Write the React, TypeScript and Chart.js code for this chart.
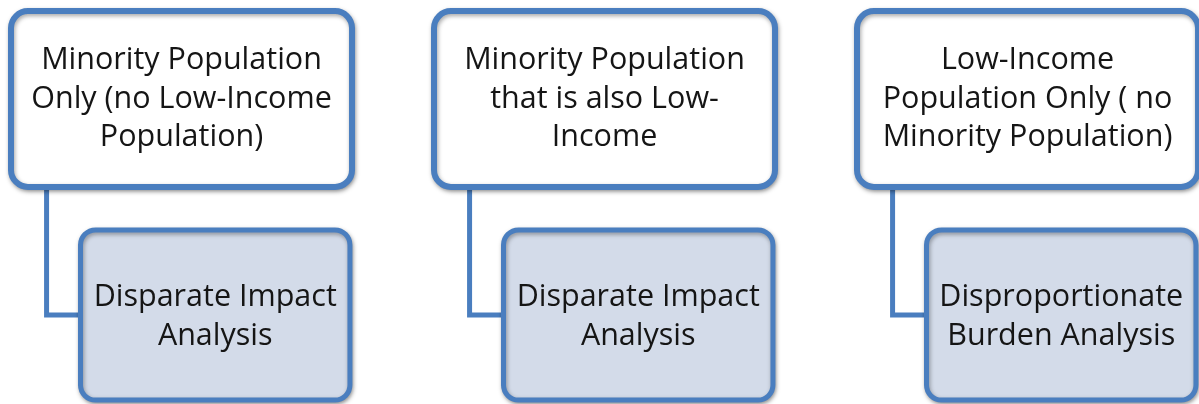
import React, { useEffect, useRef } from "react";
import { Chart, registerables } from "chart.js";

Chart.register(...registerables);

// ---- data ----
const columns = [0, 1, 2];
const topLabels = [
  ["Minority Population", "Only (no Low-Income", "Population)"],
  ["Minority Population", "that is also Low-", "Income"],
  ["Low-Income", "Population Only ( no", "Minority Population)"],
];
const bottomLabels = [
  ["Disparate Impact", "Analysis"],
  ["Disparate Impact", "Analysis"],
  ["Disproportionate", "Burden Analysis"],
];
const topLevel = 0;
const bottomLevel = 1;

// ---- layout (in scale units) ----
const X_MIN = -0.4291;
const X_MAX = 2.4054;
const Y_MIN = -0.4583;
const Y_MAX = 1.412;
const TOP_HALF_W = 0.4031;
const TOP_HALF_H = 0.407;
const BOT_OFFSET_X = 0.0797;
const BOT_HALF_W = 0.3185;
const BOT_HALF_H = 0.394;
const CONNECTOR_X = -0.319;

const BLUE = "#4a7ebf";
const BOT_FILL = "#d3dbe9";
const FONT_FAMILY = "'Open Sans', Lato, sans-serif";
const FONT_SIZE = 30.5;
const LINE_H = 38.5;

function roundRect(ctx: CanvasRenderingContext2D, x: number, y: number, w: number, h: number, r: number) {
  ctx.beginPath();
  ctx.moveTo(x + r, y);
  ctx.lineTo(x + w - r, y);
  ctx.arcTo(x + w, y, x + w, y + r, r);
  ctx.lineTo(x + w, y + h - r);
  ctx.arcTo(x + w, y + h, x + w - r, y + h, r);
  ctx.lineTo(x + r, y + h);
  ctx.arcTo(x, y + h, x, y + h - r, r);
  ctx.lineTo(x, y + r);
  ctx.arcTo(x, y, x + r, y, r);
  ctx.closePath();
}

const boxPlugin = {
  id: "boxes",
  afterDatasetsDraw(chart: any) {
    const ctx: CanvasRenderingContext2D = chart.ctx;
    const xs = chart.scales.x;
    const ys = chart.scales.y;
    const pxX = Math.abs(xs.getPixelForValue(1) - xs.getPixelForValue(0));
    const pxY = Math.abs(ys.getPixelForValue(1) - ys.getPixelForValue(0));
    const specs = [
      { ds: 3, halfW: TOP_HALF_W, halfH: TOP_HALF_H, fill: "#ffffff", lw: 6, r: 17, labels: topLabels, dy: -2 },
      { ds: 4, halfW: BOT_HALF_W, halfH: BOT_HALF_H, fill: BOT_FILL, lw: 5, r: 15, labels: bottomLabels, dy: 0 },
    ];
    specs.forEach((s) => {
      const meta = chart.getDatasetMeta(s.ds);
      meta.data.forEach((pt: any, j: number) => {
        const cx = pt.x;
        const cy = pt.y;
        const w = s.halfW * pxX * 2;
        const h = s.halfH * pxY * 2;
        const x0 = cx - w / 2;
        const y0 = cy - h / 2;
        ctx.save();
        ctx.shadowColor = "rgba(0,0,0,0.35)";
        ctx.shadowBlur = 4;
        ctx.shadowOffsetX = 1;
        ctx.shadowOffsetY = 2;
        roundRect(ctx, x0, y0, w, h, s.r);
        ctx.fillStyle = s.fill;
        ctx.fill();
        ctx.lineWidth = s.lw;
        ctx.strokeStyle = BLUE;
        ctx.stroke();
        ctx.restore();

        ctx.save();
        ctx.fillStyle = "#151515";
        ctx.font = `${FONT_SIZE}px ${FONT_FAMILY}`;
        ctx.textAlign = "center";
        ctx.textBaseline = "alphabetic";
        const lines: string[] = s.labels[j];
        const capHalf = FONT_SIZE * 0.35;
        lines.forEach((line, i) => {
          const yy = cy + s.dy + (i - (lines.length - 1) / 2) * LINE_H + capHalf;
          ctx.fillText(line, cx, yy);
        });
        ctx.restore();
      });
    });
  },
};

export default function App() {
  const ref = useRef<HTMLCanvasElement | null>(null);
  useEffect(() => {
    document.body.style.margin = "0";
    if (!ref.current) return;
    const connectorSets = columns.map((c) => ({
      type: "line" as const,
      data: [
        { x: c + CONNECTOR_X, y: topLevel + TOP_HALF_H },
        { x: c + CONNECTOR_X, y: bottomLevel },
        { x: c + BOT_OFFSET_X - BOT_HALF_W, y: bottomLevel },
      ],
      borderColor: BLUE,
      borderWidth: 5,
      pointRadius: 0,
      tension: 0,
      fill: false,
      clip: false as any,
    }));
    const chart = new Chart(ref.current, {
      type: "scatter",
      data: {
        datasets: [
          ...connectorSets,
          {
            type: "scatter" as const,
            data: columns.map((c) => ({ x: c, y: topLevel })),
            pointRadius: 0,
          },
          {
            type: "scatter" as const,
            data: columns.map((c) => ({ x: c + BOT_OFFSET_X, y: bottomLevel })),
            pointRadius: 0,
          },
        ] as any,
      },
      options: {
        animation: false,
        responsive: true,
        maintainAspectRatio: false,
        layout: { padding: 0 },
        plugins: { legend: { display: false }, tooltip: { enabled: false } },
        scales: {
          x: { type: "linear", min: X_MIN, max: X_MAX, display: false },
          y: { type: "linear", min: Y_MIN, max: Y_MAX, reverse: true, display: false },
        },
        events: [],
      },
      plugins: [boxPlugin],
    });
    return () => chart.destroy();
  }, []);
  return (
    <div style={{ position: "fixed", left: 0, top: 0, width: 1199, height: 404, background: "#ffffff" }}>
      <canvas ref={ref} />
    </div>
  );
}
